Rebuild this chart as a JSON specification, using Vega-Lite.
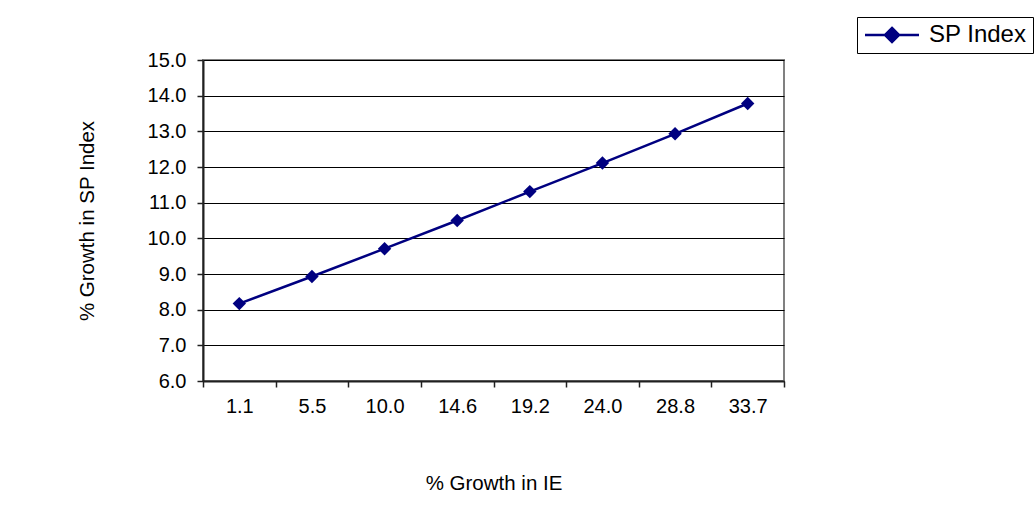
{
  "$schema": "https://vega.github.io/schema/vega-lite/v6.json",
  "width": 581,
  "height": 321,
  "autosize": {"type": "none"},
  "padding": {"left": 203, "top": 60, "right": 252, "bottom": 140},
  "background": "white",
  "config": {
    "font": "Liberation Sans",
    "view": {"stroke": "#808080", "strokeWidth": 2},
    "axis": {
      "labelFont": "Liberation Sans",
      "titleFont": "Liberation Sans",
      "labelFontSize": 20,
      "titleFontSize": 20.5,
      "labelColor": "black",
      "titleColor": "black",
      "titleFontWeight": "normal",
      "domainColor": "#202020",
      "domainWidth": 2,
      "tickColor": "#202020",
      "tickWidth": 1.5,
      "tickSize": 6
    }
  },
  "data": {
    "values": [
      {"ie": "1.1", "sp": 8.17, "series": "SP Index"},
      {"ie": "5.5", "sp": 8.93, "series": "SP Index"},
      {"ie": "10.0", "sp": 9.71, "series": "SP Index"},
      {"ie": "14.6", "sp": 10.5, "series": "SP Index"},
      {"ie": "19.2", "sp": 11.31, "series": "SP Index"},
      {"ie": "24.0", "sp": 12.11, "series": "SP Index"},
      {"ie": "28.8", "sp": 12.93, "series": "SP Index"},
      {"ie": "33.7", "sp": 13.78, "series": "SP Index"}
    ]
  },
  "mark": {
    "type": "line",
    "strokeWidth": 2.5,
    "point": {"shape": "diamond", "filled": true, "size": 180, "opacity": 1}
  },
  "encoding": {
    "x": {
      "field": "ie",
      "type": "ordinal",
      "sort": null,
      "scale": {"paddingInner": 0, "paddingOuter": 0},
      "axis": {
        "title": "% Growth in IE",
        "tickBand": "extent",
        "labelAngle": 0,
        "labelPadding": 9,
        "titlePadding": 57,
        "grid": false
      }
    },
    "y": {
      "field": "sp",
      "type": "quantitative",
      "scale": {"domain": [6, 15], "nice": false, "zero": false},
      "axis": {
        "title": "% Growth in SP Index",
        "values": [6, 7, 8, 9, 10, 11, 12, 13, 14, 15],
        "format": ".1f",
        "grid": true,
        "gridColor": "black",
        "gridWidth": 1,
        "gridOpacity": 1,
        "labelPadding": 11,
        "titlePadding": 50
      }
    },
    "color": {
      "field": "series",
      "type": "nominal",
      "scale": {"range": ["#000080"]},
      "legend": {
        "title": null,
        "orient": "none",
        "legendX": 654,
        "legendY": -43,
        "strokeColor": "black",
        "fillColor": "white",
        "padding": 6,
        "labelFontSize": 24,
        "labelFont": "Liberation Sans",
        "labelColor": "black",
        "labelOffset": 25,
        "symbolOffset": 17,
        "symbolType": "M-2.7,0H2.7M0,-0.7L0.7,0L0,0.7L-0.7,0Z",
        "symbolSize": 400,
        "symbolStrokeWidth": 2.5,
        "symbolStrokeColor": "#000080",
        "symbolFillColor": "#000080",
        "symbolOpacity": 1
      }
    }
  }
}
